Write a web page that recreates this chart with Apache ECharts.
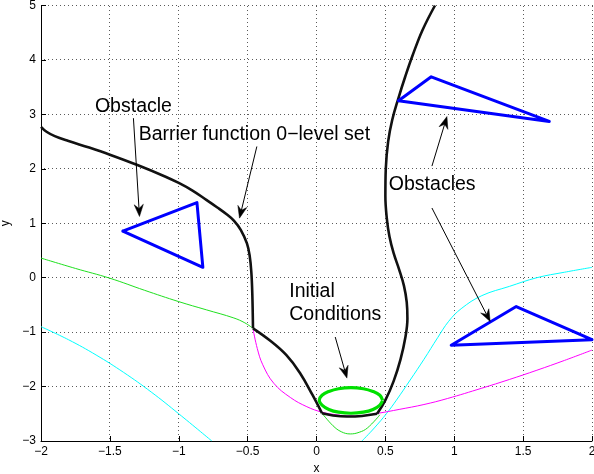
<!DOCTYPE html>
<html>
<head>
<meta charset="utf-8">
<script src="https://cdn.jsdelivr.net/npm/echarts@6/dist/echarts.min.js"></script>
<style>
html,body{margin:0;padding:0;background:#fff;}
#chart{width:594px;height:474px;}
</style>
</head>
<body>
<div id="chart"></div>
<script>
// ---- data ----
const xTicks = [-2, -1.5, -1, -0.5, 0, 0.5, 1, 1.5, 2];
const yTicks = [-3, -2, -1, 0, 1, 2, 3, 4, 5];

const barrierLeft = [[-2,2.77],[-1.96,2.68],[-1.9,2.6],[-1.8,2.51],[-1.65,2.39],[-1.5,2.26],[-1.3,2.07],[-1.1,1.86],[-1.0,1.74],[-0.9,1.6],[-0.8,1.43],[-0.72,1.29],[-0.65,1.16],[-0.6,1.05],[-0.55,0.88],[-0.505,0.63],[-0.485,0.4],[-0.473,0.1],[-0.466,-0.3],[-0.461,-0.93]];
const barrierSlope = [[-0.461,-0.93],[-0.34,-1.15],[-0.22,-1.42],[-0.12,-1.75],[-0.03,-2.15],[0.04,-2.49]];
const barrierBottom = [[0.04,-2.49],[0.12,-2.53],[0.22,-2.55],[0.33,-2.54],[0.44,-2.5]];
const barrierRight = [[0.44,-2.5],[0.5,-2.25],[0.56,-1.9],[0.61,-1.5],[0.645,-1.1],[0.66,-0.75],[0.655,-0.45],[0.635,-0.15],[0.6,0.15],[0.56,0.45],[0.53,0.75],[0.51,1.1],[0.5,1.5],[0.503,2.0],[0.52,2.5],[0.55,2.9],[0.595,3.3],[0.645,3.7],[0.7,4.1],[0.77,4.55],[0.86,5.0]];

const greenLeft = [[-2,0.36],[-1.75,0.17],[-1.5,-0.01],[-1.25,-0.23],[-1.0,-0.44],[-0.8,-0.59],[-0.6,-0.74],[-0.52,-0.83],[-0.461,-0.93]];
const greenDip = [[0.04,-2.49],[0.12,-2.72],[0.18,-2.83],[0.245,-2.87],[0.31,-2.84],[0.37,-2.76],[0.46,-2.52]];
const magenta = [[-0.46,-0.95],[-0.43,-1.3],[-0.39,-1.6],[-0.31,-1.94],[-0.19,-2.2],[-0.07,-2.37],[0.04,-2.47],[0.15,-2.52],[0.25,-2.54],[0.35,-2.53],[0.45,-2.49],[0.6,-2.42],[0.78,-2.33],[0.95,-2.22],[1.2,-2.03],[1.4,-1.87],[1.6,-1.7],[1.8,-1.52],[2.0,-1.33]];
const cyanLeft = [[-2,-0.9],[-1.8,-1.14],[-1.6,-1.42],[-1.4,-1.74],[-1.2,-2.1],[-1.0,-2.5],[-0.76,-3.0]];
const cyanRight = [[0.33,-3.0],[0.42,-2.76],[0.51,-2.49],[0.58,-2.25],[0.68,-1.88],[0.78,-1.5],[0.88,-1.1],[0.96,-0.8],[1.05,-0.57],[1.2,-0.33],[1.4,-0.16],[1.6,0.0],[1.8,0.1],[2.0,0.19]];

const initialSet = [[0.48,-2.25],[0.46,-2.16],[0.41,-2.09],[0.34,-2.04],[0.25,-2.02],[0.16,-2.04],[0.09,-2.09],[0.04,-2.16],[0.02,-2.25],[0.04,-2.34],[0.09,-2.42],[0.16,-2.47],[0.25,-2.49],[0.34,-2.47],[0.41,-2.42],[0.46,-2.34],[0.48,-2.25]];

const obstacle1 = [[-1.406,0.855],[-0.868,1.38],[-0.825,0.19],[-1.406,0.855]];
const obstacle2 = [[0.595,3.25],[0.833,3.69],[1.69,2.87],[0.595,3.25]];
const obstacle3 = [[0.978,-1.24],[1.45,-0.53],[2.0,-1.14],[0.978,-1.24]];

const labelTexts = ['Obstacle', 'Barrier function 0\u2212level set', 'Obstacles', 'Initial', 'Conditions'];
const labelAnchors = [[-1.329,3.139],[-1.291,2.619],[0.840,1.706],[-0.198,-0.254],[-0.198,-0.683]];
const labelAligns = ['center','left','center','left','left'];
const arrows = [
  [[-1.329,2.93],[-1.285,1.124]],
  [[-0.433,2.41],[-0.559,1.094]],
  [[0.838,2.05],[0.947,2.96]],
  [[0.838,1.28],[1.261,-0.806]],
  [[0.136,-1.09],[0.221,-1.845]]
];

// ---- chart ----
const FONT = '"Liberation Sans", Arial, Helvetica, sans-serif';
const fmt = v => String(v).replace('-', '\u2212');
const chart = echarts.init(document.getElementById('chart'), null, {renderer:'canvas'});

function lineSeries(data, color, width, z) {
  return {type:'line', data:data, showSymbol:false, symbol:'none', smooth:0.4,
    lineStyle:{color:color, width:width}, z:z, silent:true, animation:false};
}
function polySeries(data, color, width, z) {
  return {type:'line', data:data, showSymbol:false, symbol:'none', smooth:false,
    lineStyle:{color:color, width:width, join:'round', cap:'round'}, z:z, silent:true, animation:false};
}

function axisOpts() {
  return {
    axisLine:{show:true, onZero:false, lineStyle:{color:'#000', width:1}},
    axisTick:{show:true, inside:true, length:5, lineStyle:{color:'#000', width:1}},
    splitLine:{show:false},
    axisLabel:{show:true, color:'#000', fontSize:12, fontFamily:FONT, margin:5, formatter:fmt, showMinLabel:true, showMaxLabel:true},
    nameTextStyle:{color:'#000', fontSize:12, fontFamily:FONT}
  };
}

chart.setOption({
  animation:false,
  backgroundColor:'#fff',
  grid:{left:41, right:2, top:5.5, bottom:33, containLabel:false, outerBoundsMode:'none', show:false},
  xAxis:Object.assign({type:'value', min:xTicks[0], max:xTicks[xTicks.length-1], interval:xTicks[1]-xTicks[0],
    name:'x', nameLocation:'middle', nameGap:21}, axisOpts()),
  yAxis:Object.assign({type:'value', min:yTicks[0], max:yTicks[yTicks.length-1], interval:yTicks[1]-yTicks[0],
    name:'y', nameLocation:'middle', nameGap:22, nameRotate:90}, axisOpts()),
  series:[
    lineSeries(cyanLeft, '#00ffff', 1, 2),
    lineSeries(cyanRight, '#00ffff', 1, 2),
    lineSeries(magenta, '#ff00ff', 1, 3),
    lineSeries(greenLeft, '#1fe01f', 1, 3),
    lineSeries(greenDip, '#1fe01f', 1, 3),
    lineSeries(barrierLeft, '#111', 2.6, 4),
    lineSeries(barrierSlope, '#111', 2.6, 4),
    lineSeries(barrierBottom, '#111', 2.6, 4),
    lineSeries(barrierRight, '#111', 2.6, 4),
    lineSeries(initialSet, '#00e000', 3.2, 5),
    polySeries(obstacle1, '#0000ff', 3, 6),
    polySeries(obstacle2, '#0000ff', 3, 6),
    polySeries(obstacle3, '#0000ff', 3, 6)
  ]
});

// ---- dotted grid + annotations (positioned through the chart's own scales) ----
const toPx = p => chart.convertToPixel({xAxisIndex:0, yAxisIndex:0}, p);
const graphics = [];
const xMin = xTicks[0], xMax = xTicks[xTicks.length-1], yMin = yTicks[0], yMax = yTicks[yTicks.length-1];
const DOT_GAP = 4, DOT_COLOR = '#5a5a5a';
const dots = [];
xTicks.slice(1).forEach(t => {
  const a = toPx([t, yMin]), b = toPx([t, yMax]);
  const x = Math.round(a[0] - 0.5);
  for (let y = Math.round(a[1]) - 3; y >= b[1] - 0.5; y -= DOT_GAP) {
    dots.push({type:'rect', silent:true, shape:{x:x, y:y, width:1, height:1}, style:{fill:DOT_COLOR}});
  }
});
yTicks.slice(1).forEach(t => {
  const a = toPx([xMin, t]), b = toPx([xMax, t]);
  const y = Math.round(a[1] - 0.5);
  for (let x = Math.round(a[0]) + 3; x <= b[0]; x += DOT_GAP) {
    dots.push({type:'rect', silent:true, shape:{x:x, y:y, width:1, height:1}, style:{fill:DOT_COLOR}});
  }
});
graphics.push({type:'group', z:0, silent:true, children:dots});
labelTexts.forEach((t, i) => {
  const p = toPx(labelAnchors[i]);
  graphics.push({type:'text', z:100, silent:true,
    style:{text:t, x:p[0], y:p[1], fill:'#000', font:'19.5px ' + FONT, align:labelAligns[i], verticalAlign:'middle'}});
});
arrows.forEach(a => {
  const p0 = toPx(a[0]), p1 = toPx(a[1]);
  const dx = p1[0]-p0[0], dy = p1[1]-p0[1];
  const len = Math.sqrt(dx*dx+dy*dy);
  const ux = dx/len, uy = dy/len, nx = -uy, ny = ux;
  const L = 12, W = 4.6, N = 8;
  graphics.push({type:'line', z:100, silent:true,
    shape:{x1:p0[0], y1:p0[1], x2:p1[0]-ux*N, y2:p1[1]-uy*N},
    style:{stroke:'#000', lineWidth:1}});
  graphics.push({type:'polygon', z:100, silent:true,
    shape:{points:[
      [p1[0], p1[1]],
      [p1[0]-ux*L+nx*W, p1[1]-uy*L+ny*W],
      [p1[0]-ux*N, p1[1]-uy*N],
      [p1[0]-ux*L-nx*W, p1[1]-uy*L-ny*W]
    ]},
    style:{fill:'#000', stroke:'#000', lineWidth:0.5}});
});
chart.setOption({graphic:graphics});
</script>
</body>
</html>
